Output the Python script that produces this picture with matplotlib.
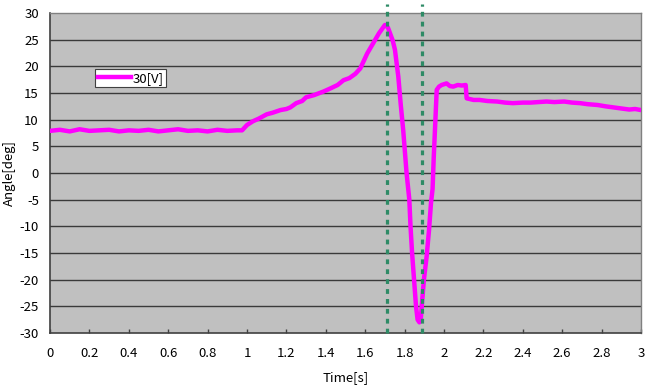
import matplotlib
matplotlib.use("Agg")
import matplotlib.pyplot as plt
from matplotlib.lines import Line2D

plt.rcParams['font.family'] = ['Noto Sans CJK JP', 'DejaVu Sans']
plt.rcParams['axes.unicode_minus'] = False

time_s = [0.00, 0.05, 0.10, 0.15, 0.20, 0.25, 0.30, 0.35, 0.40, 0.45,
          0.50, 0.55, 0.60, 0.65, 0.70, 0.75, 0.80, 0.85, 0.90, 0.95,
          0.975, 1.00, 1.03, 1.06, 1.10, 1.13, 1.17, 1.20, 1.22, 1.25,
          1.28, 1.30, 1.34, 1.39, 1.42, 1.46, 1.49, 1.52, 1.55, 1.575,
          1.61, 1.64, 1.67, 1.70, 1.715, 1.726, 1.74, 1.751, 1.768, 1.78,
          1.793, 1.81, 1.824, 1.83, 1.838, 1.848, 1.858, 1.866, 1.875, 1.882,
          1.887, 1.898, 1.912, 1.924, 1.934, 1.942, 1.948, 1.954, 1.963, 1.975,
          1.988, 2.013, 2.03, 2.047, 2.07, 2.09, 2.11, 2.115, 2.15, 2.18,
          2.22, 2.27, 2.31, 2.35, 2.40, 2.44, 2.48, 2.52, 2.56, 2.61,
          2.65, 2.69, 2.73, 2.78, 2.82, 2.86, 2.90, 2.94, 2.97, 3.00]
angle_30v = [7.9, 8.1, 7.8, 8.2, 7.9, 8.0, 8.1, 7.8, 8.0, 7.9,
             8.1, 7.8, 8.0, 8.2, 7.9, 8.0, 7.8, 8.1, 7.9, 8.0,
             8.0, 9.0, 9.7, 10.2, 11.0, 11.3, 11.8, 12.0, 12.3, 13.1,
             13.5, 14.2, 14.6, 15.3, 15.8, 16.5, 17.4, 17.8, 18.6, 19.6,
             22.4, 24.3, 26.2, 27.75, 27.3, 26.2, 24.8, 23.1, 18.1, 13.0,
             8.0, 0.0, -5.0, -10.0, -15.0, -20.0, -25.0, -27.5, -28.0, -27.5,
             -25.0, -20.0, -15.6, -10.7, -5.6, -3.0, 3.0, 8.0, 15.6, 16.2,
             16.5, 16.8, 16.3, 16.2, 16.5, 16.4, 16.5, 14.0, 13.7, 13.7,
             13.5, 13.4, 13.2, 13.1, 13.2, 13.2, 13.3, 13.4, 13.3, 13.4,
             13.2, 13.1, 12.9, 12.75, 12.5, 12.3, 12.1, 11.9, 12.0, 11.8]
marker_times = [1.711, 1.888]
series_label = "30[V]"
x_ticks = [0, 0.2, 0.4, 0.6, 0.8, 1, 1.2, 1.4, 1.6, 1.8, 2, 2.2, 2.4, 2.6, 2.8, 3]
x_tick_labels = ["0", "0.2", "0.4", "0.6", "0.8", "1", "1.2", "1.4", "1.6", "1.8",
                 "2", "2.2", "2.4", "2.6", "2.8", "3"]
y_ticks = list(range(-30, 31, 5))

fs = 9.5
fig = plt.figure(figsize=(6.46, 3.86), dpi=100)
ax = fig.add_axes([50/646, 53/386, 591/646, 320/386])
ax.set_facecolor('#C0C0C0')

for y in y_ticks[1:-1]:
    ax.axhline(y, color='#3a3a3a', lw=1.0, zorder=1)

ax.plot(time_s, angle_30v, color='#FF00FF', lw=3.2, zorder=3,
        solid_joinstyle='round', solid_capstyle='round')

for t in marker_times:
    ax.axvline(t, ymin=0, ymax=(333-4)/320, color='#2E8B66', lw=2.3,
               linestyle=(0, (1.5, 1.6)), dash_capstyle='butt',
               clip_on=False, zorder=4)

ax.set_xlim(0, 3)
ax.set_ylim(-30, 30)
ax.set_xticks(x_ticks)
ax.set_xticklabels(x_tick_labels)
ax.set_yticks(y_ticks)
ax.tick_params(axis='x', direction='in', length=3, width=1, color='#404040',
               pad=10, labelsize=fs)
ax.tick_params(axis='y', length=0, pad=8, labelsize=fs)

for s in ['left', 'bottom']:
    ax.spines[s].set_color('#404040')
    ax.spines[s].set_linewidth(1.2)
for s in ['top', 'right']:
    ax.spines[s].set_color('#808080')
    ax.spines[s].set_linewidth(1.0)

ax.set_xlabel('Time[s]', fontsize=fs, labelpad=8)
ax.set_ylabel('Angle[deg]', fontsize=fs, labelpad=3)

handle = Line2D([], [], color='#FF00FF', lw=3.2)
leg = ax.legend([handle], [series_label], loc='upper left',
                bbox_to_anchor=(45/591, 1 - 56/320), fontsize=fs,
                frameon=True, fancybox=False, handlelength=2.5,
                handletextpad=0.15, borderpad=0.2, borderaxespad=0)
leg.get_frame().set_edgecolor('#404040')
leg.get_frame().set_linewidth(0.8)
leg.get_frame().set_facecolor('white')
leg.get_frame().set_alpha(1)

fig.savefig('out.png', dpi=100)
